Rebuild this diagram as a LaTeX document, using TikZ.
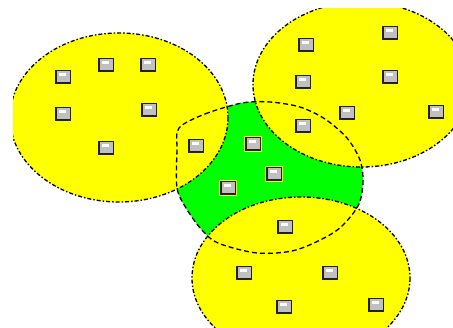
\documentclass[tikz,border=0pt]{standalone}
\usepackage{xcolor}
\usepackage{tikz}
\definecolor{NetYellow}{HTML}{FFFF00}
\definecolor{NetGreen}{HTML}{00FF00}
\definecolor{NetGray}{HTML}{C0C0C0}
\definecolor{NetEdge}{HTML}{202020}
\newcommand{\coreshape}{plot[smooth cycle,tension=0.5] coordinates {(179,128) (205,114) (242,103) (270,102) (300,107) (325,119) (347,138) (360,160) (363,182) (358,206) (336,231) (296,250) (257,253) (218,243) (201,229) (186,208) (177,188) (177,150)}}

\begin{document}
\begin{tikzpicture}[x=1pt,y=-1pt,
  zone/.style={draw=black,line width=1.3pt,dash pattern=on 4pt off 2pt on 1.5pt off 2pt},
  corezone/.style={draw=black,line width=1.3pt,dash pattern=on 5pt off 3pt},
  host/.style={draw=NetEdge,fill=NetGray,line width=1.5pt,minimum width=14.5pt,minimum height=12.5pt,inner sep=0pt,
    path picture={\fill[white] ([xshift=3.5pt,yshift=-2.6pt]path picture bounding box.north west) rectangle ++(7pt,-2.4pt);}},
  hostlit/.style={host,preaction={draw=NetYellow,line width=3.8pt}}]
\path[use as bounding box] (0,0) rectangle (453,328);
\begin{scope}
\clip (13,9) rectangle (453,328);
\fill[NetGreen] \coreshape;
\fill[NetYellow] (119,117.5) ellipse [x radius=109,y radius=84.5];
\fill[NetYellow] (361.5,84.5) ellipse [x radius=108.5,y radius=82.5];
\fill[NetYellow] (301,278) ellipse [x radius=109,y radius=81];
\draw[zone] (119,117.5) ellipse [x radius=109,y radius=84.5];
\draw[zone] (361.5,84.5) ellipse [x radius=108.5,y radius=82.5];
\draw[zone] (301,278) ellipse [x radius=109,y radius=81];
\draw[corezone] \coreshape;
\end{scope}
% left cluster
\node[host] (l1) at (63,77) {};
\node[host] (l2) at (106,65) {};
\node[host] (l3) at (148,65) {};
\node[host] (l4) at (63,114) {};
\node[host] (l5) at (149,110) {};
\node[host] (l6) at (106,148) {};
\node[host] (l7) at (196,146) {};
% right cluster
\node[host] (r1) at (390,33) {};
\node[host] (r2) at (306,45) {};
\node[host] (r3) at (303,82) {};
\node[host] (r4) at (390,77) {};
\node[host] (r5) at (347,113) {};
\node[host] (r6) at (436,112) {};
\node[host] (r7) at (303,126) {};
% core cluster
\node[hostlit] (c1) at (253,144) {};
\node[hostlit] (c2) at (274,174) {};
\node[hostlit] (c3) at (228,188) {};
% bottom cluster
\node[host] (b1) at (285,227) {};
\node[host] (b2) at (244,273) {};
\node[host] (b3) at (330,273) {};
\node[host] (b4) at (284,307) {};
\node[host] (b5) at (376,305) {};
\end{tikzpicture}
\end{document}
